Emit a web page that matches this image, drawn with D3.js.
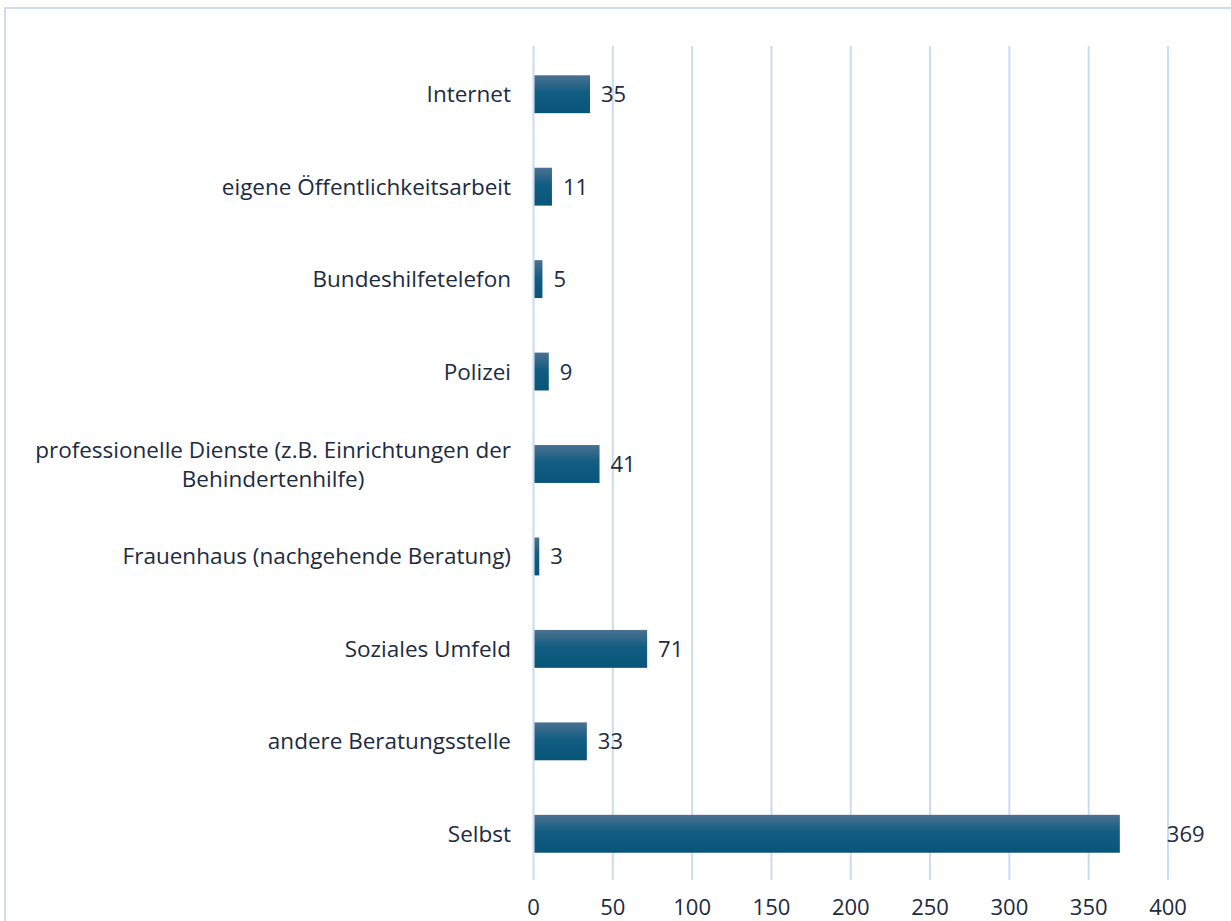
<!DOCTYPE html>
<html>
<head>
<meta charset="utf-8">
<script src="https://cdn.jsdelivr.net/npm/d3@7"></script>
<style>
  body { margin: 0; background: #fff; }
  svg { display: block; }
</style>
</head>
<body>
<div id="chart"></div>
<script>
// Data (top to bottom)
var categories = [
  'Internet',
  'eigene Öffentlichkeitsarbeit',
  'Bundeshilfetelefon',
  'Polizei',
  'professionelle Dienste (z.B. Einrichtungen der|Behindertenhilfe)',
  'Frauenhaus (nachgehende Beratung)',
  'Soziales Umfeld',
  'andere Beratungsstelle',
  'Selbst'
]
var values = [35, 11, 5, 9, 41, 3, 71, 33, 369]
var ticks = [0, 50, 100, 150, 200, 250, 300, 350, 400]

var W = 1231, H = 921
var plot = {left: 533.5, right: 1168, top: 48, bottom: 880}
var textColor = '#1c2b40'
var gridColor = '#c9dcf0'
var font = '"Open Sans", sans-serif'

var svg = d3.select('#chart').append('svg')
    .attr('width', W)
    .attr('height', H)

// gradient for bars
var grad = svg.append('defs').append('linearGradient')
    .attr('id', 'barGrad')
    .attr('x1', 0).attr('y1', 0).attr('x2', 0).attr('y2', 1)
grad.append('stop').attr('offset', '0%').attr('stop-color', '#4b7190')
grad.append('stop').attr('offset', '45%').attr('stop-color', '#125d82')
grad.append('stop').attr('offset', '100%').attr('stop-color', '#08557a')

// chart border
svg.append('rect')
    .attr('x', 5)
    .attr('y', 8)
    .attr('width', W + 20)
    .attr('height', H + 20)
    .attr('fill', 'none')
    .attr('stroke', gridColor)
    .attr('stroke-width', 2)

var x = d3.scaleLinear()
    .domain([0, 400])
    .range([plot.left, plot.right])

var y = d3.scaleBand()
    .domain(categories)
    .range([plot.top, plot.bottom])
    .paddingInner(0.59)
    .paddingOuter(0.295)

// Vertical grid lines
svg.selectAll('line.grid')
    .data(ticks)
  .enter().append('line')
    .attr('class', 'grid')
    .attr('x1', function(d){ return x(d) })
    .attr('x2', function(d){ return x(d) })
    .attr('y1', 46)
    .attr('y2', plot.bottom)
    .style('stroke', gridColor)
    .style('stroke-width', 2)

// Tick labels
svg.selectAll('text.tick')
    .data(ticks)
  .enter().append('text')
    .attr('class', 'tick')
    .attr('x', function(d){ return x(d) })
    .attr('y', 915)
    .text(function(d){ return d })
    .style('text-anchor', 'middle')
    .attr('font-family', font)
    .attr('font-size', '22px')
    .attr('fill', textColor)

// Bars
svg.selectAll('rect.bar')
    .data(values)
  .enter().append('rect')
    .attr('class', 'bar')
    .attr('x', x(0) + 1)
    .attr('y', function(d, i){ return y(categories[i]) })
    .attr('width', function(d){ return x(d) - x(0) })
    .attr('height', y.bandwidth())
    .attr('fill', 'url(#barGrad)')

// Value labels (the long bar gets its label pushed further right, as in the original)
var maxVal = d3.max(values)
svg.selectAll('text.val')
    .data(values)
  .enter().append('text')
    .attr('class', 'val')
    .attr('x', function(d){ return x(d) + (d === maxVal ? 48 : 12) })
    .attr('y', function(d, i){ return y(categories[i]) + y.bandwidth() / 2 + 8 })
    .text(function(d){ return d })
    .attr('font-family', font)
    .attr('font-size', '22px')
    .attr('fill', textColor)

// Category labels (multi-line, centered block, right edge at 511)
categories.forEach(function(c, i){
  var lines = c.split('|')
  var cy = y(c) + y.bandwidth() / 2
  var t = svg.append('text')
      .attr('font-family', font)
      .attr('font-size', '22.5px')
      .attr('fill', textColor)
  var lh = 29
  var y0 = cy + 8 - (lines.length - 1) * lh / 2
  lines.forEach(function(l, j){
    t.append('tspan')
      .attr('y', y0 + j * lh)
      .text(l)
  })
  var widths = []
  t.selectAll('tspan').each(function(){ widths.push(this.getComputedTextLength()) })
  var maxW = d3.max(widths)
  var center = 511 - maxW / 2
  t.selectAll('tspan')
      .attr('x', center)
      .style('text-anchor', 'middle')
})
</script>
</body>
</html>
